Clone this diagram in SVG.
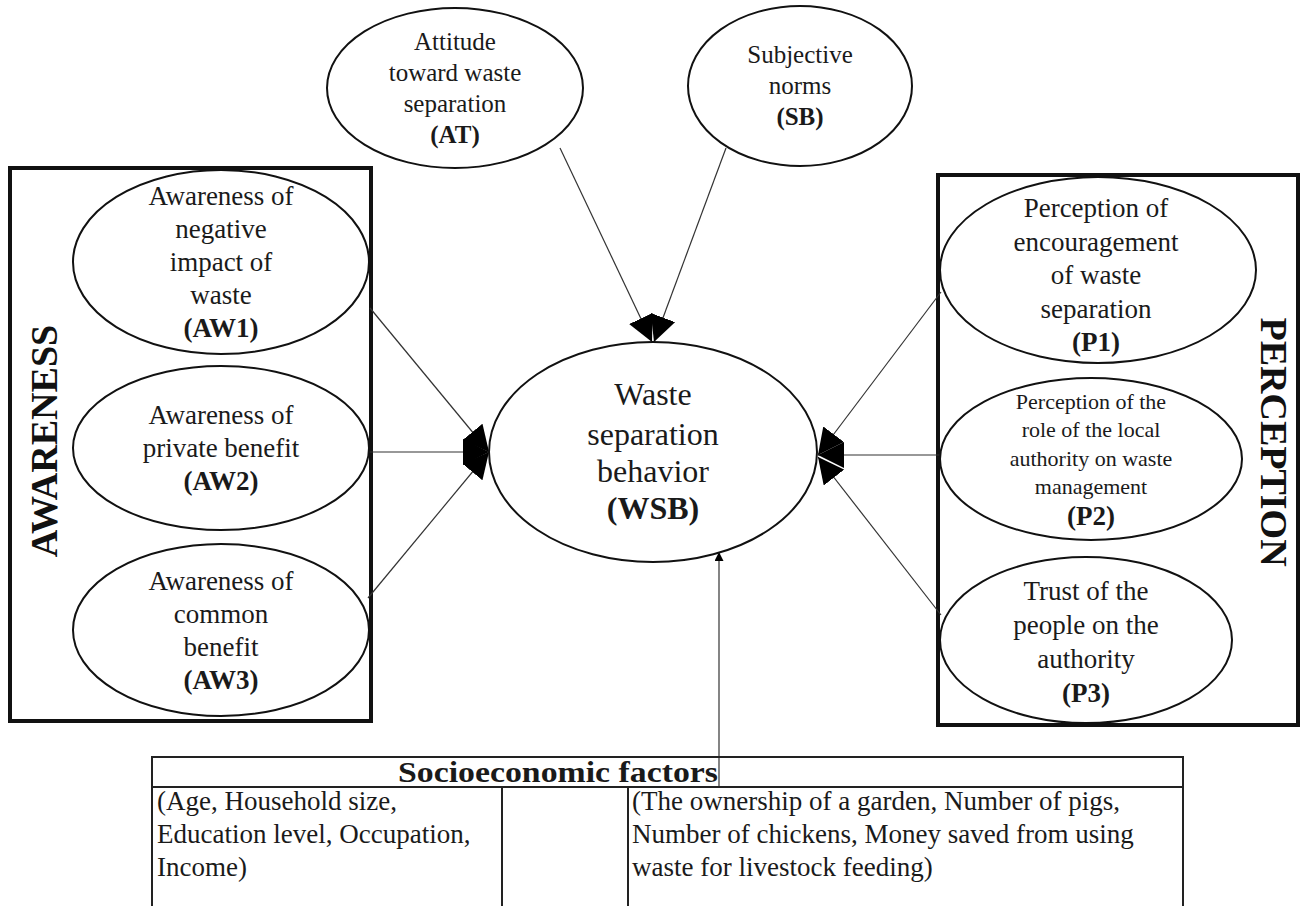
<svg xmlns="http://www.w3.org/2000/svg" width="1307" height="906" viewBox="0 0 1307 906" font-family="'Liberation Serif', 'Times New Roman', serif">
  <style>
    .t { font-family: "Liberation Serif", "Times New Roman", serif; font-size: 27px; fill: #1a1a1a; text-anchor: middle; }
    .top { font-size: 25px; }
    .sm { font-size: 22px; }
    .b { font-weight: bold; }
    .big { font-family: "Liberation Serif", "Times New Roman", serif; font-size: 38px; font-weight: bold; fill: #111; text-anchor: middle; }
    .lt { font-family: "Liberation Serif", "Times New Roman", serif; font-size: 27px; fill: #1a1a1a; }
    .node { fill: #fff; stroke: #111; stroke-width: 2; }
    .frame { fill: none; stroke: #111; stroke-width: 4; }
    .box { fill: none; stroke: #222; stroke-width: 2; }
    .edge { fill: none; stroke: #333; stroke-width: 1.2; }
  </style>
  <defs>
    <marker id="head" viewBox="0 0 10 10" refX="10" refY="5" markerUnits="userSpaceOnUse" markerWidth="26" markerHeight="26" orient="auto">
      <path d="M0,0 L10,5 L0,10 z" fill="#000"/>
    </marker>
    <marker id="headSmall" viewBox="0 0 10 10" refX="10" refY="5" markerUnits="userSpaceOnUse" markerWidth="10" markerHeight="9" orient="auto">
      <path d="M0,0 L10,5 L0,10 z" fill="#000"/>
    </marker>
  </defs>
  <rect width="1307" height="906" fill="#fff"/>

  <!-- group frames -->
  <g id="awareness-group">
    <rect class="frame" x="10" y="168" width="361" height="553"/>
    <text class="big" transform="translate(57,441) rotate(-90)">AWARENESS</text>
  </g>
  <g id="perception-group">
    <rect class="frame" x="938" y="175" width="360" height="550"/>
    <text class="big" transform="translate(1261,442) rotate(90)">PERCEPTION</text>
  </g>

  <!-- connectors -->
  <g id="connectors">
    <line class="edge" x1="560" y1="148" x2="652" y2="342" marker-end="url(#head)"/>
    <line class="edge" x1="726" y1="148" x2="654" y2="342" marker-end="url(#head)"/>
    <line class="edge" x1="370" y1="308" x2="489" y2="452" marker-end="url(#head)"/>
    <line class="edge" x1="369" y1="452" x2="489" y2="452" marker-end="url(#head)"/>
    <line class="edge" x1="368" y1="598" x2="489" y2="452" marker-end="url(#head)"/>
    <line class="edge" x1="941" y1="292" x2="818" y2="455" marker-end="url(#head)"/>
    <line class="edge" x1="941" y1="455" x2="818" y2="455" marker-end="url(#head)"/>
    <line class="edge" x1="941" y1="615" x2="818" y2="457" marker-end="url(#head)"/>
    <line class="edge" x1="719" y1="787" x2="719" y2="552" marker-end="url(#headSmall)"/>
  </g>

  <g id="AT">
    <ellipse class="node" cx="455" cy="88" rx="128" ry="80"/>
    <text class="t top" x="455" y="50">Attitude</text>
    <text class="t top" x="455" y="81">toward waste</text>
    <text class="t top" x="455" y="112">separation</text>
    <text class="t top b" x="455" y="143">(AT)</text>
  </g>
  <g id="SB">
    <ellipse class="node" cx="800" cy="86" rx="112" ry="80"/>
    <text class="t top" x="800" y="63">Subjective</text>
    <text class="t top" x="800" y="94">norms</text>
    <text class="t top b" x="800" y="125">(SB)</text>
  </g>

  <g id="AW1">
    <ellipse class="node" cx="221" cy="262" rx="148" ry="92"/>
    <text class="t" x="221" y="205">Awareness of</text>
    <text class="t" x="221" y="238">negative</text>
    <text class="t" x="221" y="271">impact of</text>
    <text class="t" x="221" y="304">waste</text>
    <text class="t b" x="221" y="337">(AW1)</text>
  </g>
  <g id="AW2">
    <ellipse class="node" cx="221" cy="448" rx="148" ry="82"/>
    <text class="t" x="221" y="424">Awareness of</text>
    <text class="t" x="221" y="457">private benefit</text>
    <text class="t b" x="221" y="490">(AW2)</text>
  </g>
  <g id="AW3">
    <ellipse class="node" cx="221" cy="630" rx="148" ry="86"/>
    <text class="t" x="221" y="590">Awareness of</text>
    <text class="t" x="221" y="623">common</text>
    <text class="t" x="221" y="656">benefit</text>
    <text class="t b" x="221" y="689">(AW3)</text>
  </g>

  <g id="WSB">
    <ellipse class="node" cx="653" cy="452" rx="164" ry="110"/>
    <text class="t" style="font-size:32px" x="653" y="405">Waste</text>
    <text class="t" style="font-size:32px" x="653" y="445">separation</text>
    <text class="t" style="font-size:32px" x="653" y="482">behavior</text>
    <text class="t b" style="font-size:32px" x="653" y="519">(WSB)</text>
  </g>

  <g id="P1">
    <ellipse class="node" cx="1098" cy="270" rx="158" ry="93"/>
    <text class="t" x="1096" y="217">Perception of</text>
    <text class="t" x="1096" y="251">encouragement</text>
    <text class="t" x="1096" y="284">of waste</text>
    <text class="t" x="1096" y="318">separation</text>
    <text class="t b" x="1096" y="351">(P1)</text>
  </g>
  <g id="P2">
    <ellipse class="node" cx="1091" cy="459" rx="151" ry="81"/>
    <text class="t sm" x="1091" y="409">Perception of the</text>
    <text class="t sm" x="1091" y="437">role of the local</text>
    <text class="t sm" x="1091" y="466">authority on waste</text>
    <text class="t sm" x="1091" y="494">management</text>
    <text class="t b" x="1091" y="525">(P2)</text>
  </g>
  <g id="P3">
    <ellipse class="node" cx="1086" cy="640" rx="146" ry="83"/>
    <text class="t" x="1086" y="600">Trust of the</text>
    <text class="t" x="1086" y="634">people on the</text>
    <text class="t" x="1086" y="668">authority</text>
    <text class="t b" x="1086" y="702">(P3)</text>
  </g>

  <g id="socioeconomic">
    <rect class="box" x="152" y="757" width="1031" height="30"/>
    <text class="lt b" style="font-size:30px" x="398" y="782" textLength="320" lengthAdjust="spacingAndGlyphs">Socioeconomic factors</text>
    <path class="box" d="M152,787 V906 M502,787 V906 M628,787 V906 M1183,787 V906"/>
    <text class="lt" x="157" y="810">(Age, Household size,</text>
    <text class="lt" x="157" y="843">Education level, Occupation,</text>
    <text class="lt" x="157" y="876">Income)</text>
    <text class="lt" x="632" y="810">(The ownership of a garden, Number of pigs,</text>
    <text class="lt" x="632" y="843">Number of chickens, Money saved from using</text>
    <text class="lt" x="632" y="876">waste for livestock feeding)</text>
  </g>
</svg>
